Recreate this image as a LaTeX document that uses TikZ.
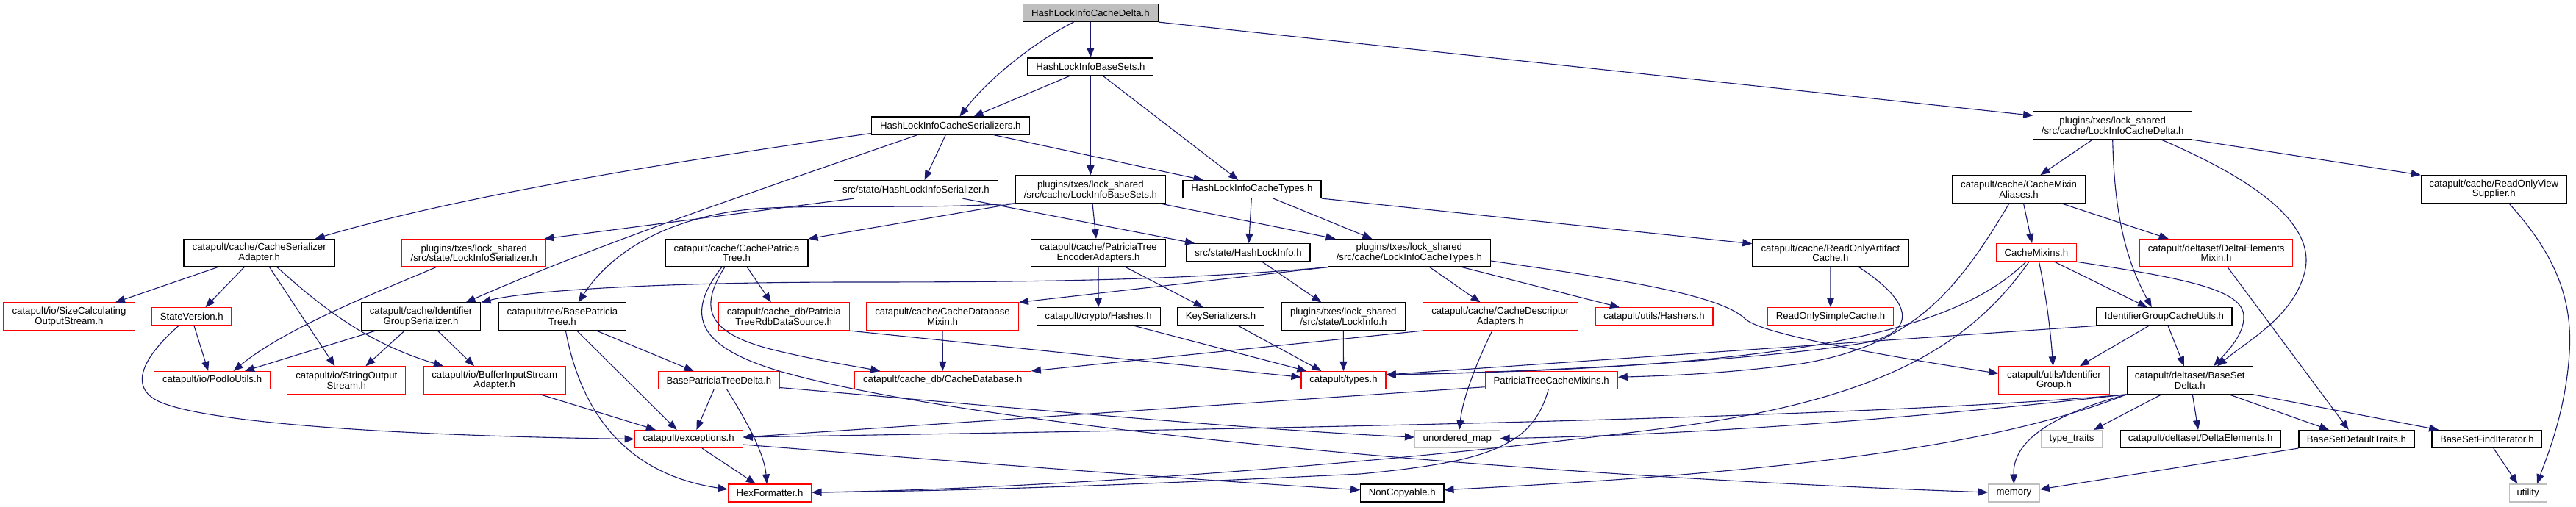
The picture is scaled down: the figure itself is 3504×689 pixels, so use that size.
\documentclass[tikz,border=0pt]{standalone}
\usepackage{fontspec}
\usetikzlibrary{arrows.meta}
\newfontfamily\lsans{Liberation Sans}
\newcommand\gfont{\lsans\fontsize{13.2pt}{13.7pt}\selectfont}
\definecolor{edgecol}{RGB}{25,25,112}
\definecolor{nred}{RGB}{255,0,0}
\definecolor{ngray}{RGB}{191,191,191}
\tikzset{
  base/.style={draw, line width=1.15pt, inner sep=0pt, align=center, font=\gfont, minimum height=24pt, fill=white},
  blk/.style={base, draw=black},
  redb/.style={base, draw=nred},
  grayb/.style={base, draw=ngray},
  two/.style={minimum height=37.5pt},
  dep/.style={draw=edgecol, line width=1.1pt, -{Triangle[length=13pt,width=10pt]}}
}
\begin{document}
\begin{tikzpicture}[x=1pt,y=-1pt]
\path[use as bounding box] (0,0) rectangle (3504,689);
% row 0-1
\node[blk, fill=ngray, minimum width=184pt] (top) at (1483.4,17.5) {HashLockInfoCacheDelta.h};
\node[blk, minimum width=171pt] (bs) at (1483.4,91) {HashLockInfoBaseSets.h};
\node[blk, minimum width=215pt] (ser) at (1292.8,171) {HashLockInfoCacheSerializers.h};
\node[blk, two, minimum width=216pt] (delta) at (2873.7,170.8) {plugins/txes/lock\_shared\\/src/cache/LockInfoCacheDelta.h};
% row 2
\node[blk, minimum width=223pt] (hser) at (1246,257.5) {src/state/HashLockInfoSerializer.h};
\node[blk, two, minimum width=204pt] (libs) at (1483.4,257.5) {plugins/txes/lock\_shared\\/src/cache/LockInfoBaseSets.h};
\node[blk, minimum width=188pt] (types1) at (1703,257.5) {HashLockInfoCacheTypes.h};
\node[blk, two, minimum width=181pt] (alias) at (2746,257.5) {catapult/cache/CacheMixin\\Aliases.h};
\node[blk, two, minimum width=198pt] (rovs) at (3392.3,257.5) {catapult/cache/ReadOnlyView\\Supplier.h};
% row 3
\node[blk, two, minimum width=205.5pt] (csa) at (352.7,344.3) {catapult/cache/CacheSerializer\\Adapter.h};
\node[redb, two, minimum width=196pt] (lis) at (644.8,344.3) {plugins/txes/lock\_shared\\/src/state/LockInfoSerializer.h};
\node[blk, two, minimum width=194pt] (cpt) at (1002,344.3) {catapult/cache/CachePatricia\\Tree.h};
\node[blk, two, minimum width=183pt] (pte) at (1494,344.3) {catapult/cache/PatriciaTree\\EncoderAdapters.h};
\node[blk, minimum width=168pt] (hli) at (1698,343.7) {src/state/HashLockInfo.h};
\node[blk, two, minimum width=221pt] (lict) at (1916.8,344.3) {plugins/txes/lock\_shared\\/src/cache/LockInfoCacheTypes.h};
\node[blk, two, minimum width=212pt] (roac) at (2489.9,344.3) {catapult/cache/ReadOnlyArtifact\\Cache.h};
\node[redb, minimum width=109pt] (mixins) at (2769.9,343.7) {CacheMixins.h};
\node[redb, two, minimum width=208pt] (dem) at (3014.6,344.3) {catapult/deltaset/DeltaElements\\Mixin.h};
% row 4
\node[redb, two, minimum width=179pt] (scos) at (94,430.8) {catapult/io/SizeCalculating\\OutputStream.h};
\node[redb, minimum width=108pt] (sv) at (260.8,430.8) {StateVersion.h};
\node[blk, two, minimum width=162.5pt] (igs) at (572.6,430.8) {catapult/cache/Identifier\\GroupSerializer.h};
\node[blk, two, minimum width=173pt] (bpt) at (764.9,430.8) {catapult/tree/BasePatricia\\Tree.h};
\node[redb, two, minimum width=178pt] (rdb) at (1066.2,430.8) {catapult/cache\_db/Patricia\\TreeRdbDataSource.h};
\node[redb, two, minimum width=206.6pt] (cdm) at (1282.1,430.8) {catapult/cache/CacheDatabase\\Mixin.h};
\node[blk, minimum width=168pt] (hashes) at (1494.1,430.8) {catapult/crypto/Hashes.h};
\node[blk, minimum width=118pt] (keys) at (1660.5,430.8) {KeySerializers.h};
\node[blk, two, minimum width=167.7pt] (li) at (1827.3,430.8) {plugins/txes/lock\_shared\\/src/state/LockInfo.h};
\node[redb, two, minimum width=210.5pt] (cda) at (2040.8,430.8) {catapult/cache/CacheDescriptor\\Adapters.h};
\node[redb, minimum width=160pt] (hashers) at (2250,430.8) {catapult/utils/Hashers.h};
\node[redb, minimum width=171pt] (ross) at (2490,430.8) {ReadOnlySimpleCache.h};
\node[blk, minimum width=184pt] (igcu) at (2944,430.8) {IdentifierGroupCacheUtils.h};
% row 5
\node[redb, minimum width=158.5pt] (pod) at (288.6,517.5) {catapult/io/PodIoUtils.h};
\node[redb, two, minimum width=161pt] (sos) at (471.3,517.5) {catapult/io/StringOutput\\Stream.h};
\node[redb, two, minimum width=193.4pt] (bisa) at (672.7,517.5) {catapult/io/BufferInputStream\\Adapter.h};
\node[redb, minimum width=165pt] (bptd) at (978,517.5) {BasePatriciaTreeDelta.h};
\node[redb, minimum width=240pt] (cdb) at (1282.3,517.5) {catapult/cache\_db/CacheDatabase.h};
\node[redb, minimum width=115pt] (types) at (1827.5,517.5) {catapult/types.h};
\node[redb, minimum width=180pt] (ptcm) at (2110.2,517.5) {PatriciaTreeCacheMixins.h};
\node[redb, two, minimum width=150.4pt] (ig) at (2794,517.5) {catapult/utils/Identifier\\Group.h};
\node[blk, two, minimum width=171pt] (bsd) at (2978.7,517.5) {catapult/deltaset/BaseSet\\Delta.h};
% row 6
\node[redb, minimum width=147pt] (exc) at (936.7,597.5) {catapult/exceptions.h};
\node[grayb, minimum width=115.6pt] (umap) at (1982.3,597.5) {unordered\_map};
\node[grayb, minimum width=83pt] (tt) at (2818,597.5) {type\_traits};
\node[blk, minimum width=218pt] (de) at (2993.2,597.5) {catapult/deltaset/DeltaElements.h};
\node[blk, minimum width=157pt] (bsdt) at (3205.4,597.5) {BaseSetDefaultTraits.h};
\node[blk, minimum width=149.6pt] (bsfi) at (3382.8,597.5) {BaseSetFindIterator.h};
% row 7
\node[redb, minimum width=113.7pt] (hex) at (1047,671) {HexFormatter.h};
\node[blk, minimum width=113.3pt] (nc) at (1907.3,671) {NonCopyable.h};
\node[grayb, minimum width=69.7pt] (mem) at (2739.4,671) {memory};
\node[grayb, minimum width=51pt] (util) at (3438.6,671) {utility};

% edges
\draw[dep] (top) -- (bs);
\draw[dep] ([xshift=-23pt]top.south) .. controls (1420,50) and (1350,100) .. ([xshift=12.6pt]ser.north);
\draw[dep] (top.south east) -- ([yshift=13.5pt]delta.west);
\draw[dep] ([xshift=-28.7pt]bs.south) -- ([xshift=31.8pt]ser.north);
\draw[dep] (bs) -- (libs);
\draw[dep] ([xshift=17.2pt]bs.south) -- ([xshift=-18.7pt]types1.north);
\draw[dep] ([yshift=-10.5pt]ser.west) .. controls (900,222) and (620,268) .. ([xshift=75.9pt]csa.north);
\draw[dep] ([xshift=-44.8pt]ser.south) .. controls (1000,270) and (820,330) .. ([xshift=61pt]igs.north);
\draw[dep] ([xshift=-6.5pt]ser.south) -- ([xshift=11.6pt]hser.north);
\draw[dep] ([xshift=58.6pt]ser.south) -- ([xshift=-66.5pt]types1.north);
\draw[dep] ([xshift=-84.3pt]hser.south) -- ([xshift=-3pt]lis.north east);
\draw[dep] ([xshift=63.3pt]hser.south) -- ([xshift=-73pt]hli.north);
\draw[dep] ([xshift=2.6pt]libs.south) -- ([xshift=-3pt]pte.north);
\draw[dep] ([xshift=93.6pt]libs.south) -- ([xshift=-100.3pt]lict.north);
\draw[dep] (libs.south west) -- (cpt.north east);
\draw[dep] (libs.south west) .. controls (1250,285) and (1120,278) .. (1030,284) .. controls (930,292) and (840,330) .. ([xshift=21.8pt]bpt.north);
\draw[dep] (types1) -- (hli);
\draw[dep] ([xshift=29pt]types1.south) -- ([xshift=-50.5pt]lict.north);
\draw[dep] (types1.south east) -- ([yshift=12.6pt]roac.west);
\draw[dep] ([xshift=18.8pt]hli.south) -- ([xshift=-29.9pt]li.north);
\draw[dep] (lict.south west) .. controls (1600,382) and (1400,384) .. (1160,384) .. controls (900,384) and (720,395) .. (igs.north east);
\draw[dep] ([xshift=27.9pt]lict.south) -- ([xshift=-27.2pt]cda.north);
\draw[dep] ([xshift=72pt]lict.south) -- ([xshift=-47pt]hashers.north);
\draw[dep] (lict.south west) -- (cdm.north east);
\draw[dep] ([yshift=-10.7pt]lict.east) .. controls (2200,380) and (2340,400) .. (2375,435) .. controls (2400,455) and (2550,482) .. ([yshift=9.2pt]ig.west);
\draw[dep] (li) -- (types);
\draw[dep] ([xshift=-11pt]cda.south) .. controls (2010,490) and (1990,540) .. ([xshift=2.7pt]umap.north);
\draw[dep] (cda.south west) -- (cdb.north east);
\draw[dep] ([xshift=-4pt]ptcm.south) .. controls (2085,605) and (2030,628) .. (1850,645) .. controls (1500,662) and (1300,668) .. ([yshift=1pt]hex.east);
\draw[dep] ([yshift=-9.2pt]ptcm.west) -- ([yshift=2.5pt]exc.east);
\draw[dep] ([xshift=24.6pt]mixins.south) -- ([xshift=-23.2pt]igcu.north);
\draw[dep] ([xshift=3.6pt]mixins.south) .. controls (2785,410) and (2790,460) .. ([xshift=-1.4pt]ig.north);
\draw[dep] (mixins.south east) .. controls (2980,380) and (3050,395) .. (3052,430) .. controls (3053,455) and (3030,478) .. ([xshift=32.3pt]bsd.north);
\draw[dep] ([xshift=-14pt]mixins.south) .. controls (2660,450) and (2450,500) .. ([yshift=7.5pt]types.east);
\draw[dep] ([xshift=-10pt]mixins.south) .. controls (2680,470) and (2560,540) .. (2300,578) .. controls (1900,632) and (1400,666) .. ([yshift=1pt]hex.east);
\draw[dep] ([xshift=6.5pt]alias.south) -- ([xshift=-5.9pt]mixins.north);
\draw[dep] ([xshift=58pt]alias.south) -- ([xshift=-64.8pt]dem.north);
\draw[dep] ([xshift=-13pt]alias.south) .. controls (2660,400) and (2600,470) .. (2450,495) .. controls (2350,508) and (2280,511) .. ([yshift=4.2pt]ptcm.east);
\draw[dep] ([xshift=-27.5pt]delta.south) -- ([xshift=29.4pt]alias.north);
\draw[dep] (delta.south) .. controls (2876,300) and (2895,360) .. ([xshift=-17.2pt]igcu.north);
\draw[dep] ([xshift=66.3pt]delta.south) .. controls (3080,250) and (3150,310) .. (3135,370) .. controls (3120,430) and (3060,462) .. ([xshift=37.3pt]bsd.north);
\draw[dep] (delta.south east) -- (rovs.north west);
\draw[dep] ([xshift=20.5pt]rovs.south) .. controls (3470,340) and (3500,400) .. (3495,480) .. controls (3490,560) and (3465,620) .. ([xshift=12.4pt]util.north);
\draw[dep] ([xshift=15.5pt]dem.south) -- ([xshift=-10.7pt]bsdt.north);
\draw[dep] ([xshift=3.6pt]bsd.south) -- ([xshift=-3.2pt]de.north);
\draw[dep] ([xshift=53.3pt]bsd.south) -- ([xshift=-37.5pt]bsdt.north);
\draw[dep] (bsd.south east) -- ([xshift=-65.7pt]bsfi.north);
\draw[dep] ([xshift=-38.5pt]bsd.south) -- ([xshift=30pt]tt.north);
\draw[dep] (bsd.south west) .. controls (2770,570) and (2738,610) .. (mem.north);
\draw[dep] (bsd.south west) .. controls (2600,570) and (2300,592) .. ([yshift=0.8pt]umap.east);
\draw[dep] (bsd.south west) .. controls (2500,572) and (1600,585) .. ([yshift=2.5pt]exc.east);
\draw[dep] (bsd.south west) .. controls (2720,605) and (2450,642) .. ([yshift=4.3pt]nc.east);
\draw[dep] (bsdt.south west) -- ([yshift=5pt]mem.east);
\draw[dep] ([xshift=9pt]bsfi.south) -- ([xshift=-14.3pt]util.north);
\draw[dep] ([xshift=-56.5pt]csa.south) -- ([xshift=62.9pt]scos.north);
\draw[dep] ([xshift=-20.5pt]csa.south) -- ([xshift=18.6pt]sv.north);
\draw[dep] ([xshift=13.9pt]csa.south) -- ([xshift=-15.9pt]sos.north);
\draw[dep] ([xshift=24.3pt]csa.south) .. controls (450,430) and (510,470) .. ([xshift=-69.7pt]bisa.north);
\draw[dep] ([xshift=-51.6pt]lis.south) .. controls (520,395) and (390,445) .. ([xshift=29pt]pod.north);
\draw[dep] ([xshift=3.2pt]sv.south) -- ([xshift=-5.4pt]pod.north);
\draw[dep] ([xshift=-17.8pt]sv.south) .. controls (190,490) and (175,530) .. (220,548) .. controls (300,580) and (600,594) .. (exc.west);
\draw[dep] ([xshift=-61.7pt]igs.south) -- ([xshift=44.4pt]pod.north);
\draw[dep] ([xshift=-22.3pt]igs.south) -- ([xshift=26.2pt]sos.north);
\draw[dep] ([xshift=22.7pt]igs.south) -- ([xshift=-27.7pt]bisa.north);
\draw[dep] ([xshift=4.5pt]bpt.south) .. controls (790,560) and (850,645) .. ([yshift=5pt]hex.west);
\draw[dep] ([xshift=19.8pt]bpt.south) -- ([xshift=-16.1pt]exc.north);
\draw[dep] ([xshift=46.6pt]bpt.south) -- ([xshift=-34.4pt]bptd.north);
\draw[dep] ([xshift=14.3pt]cpt.south) -- ([xshift=-17.4pt]rdb.north);
\draw[dep] ([xshift=-16.3pt]cpt.south) .. controls (950,420) and (960,455) .. (1060,478) .. controls (1110,490) and (1160,498) .. ([xshift=-85pt]cdb.north);
\draw[dep] ([xshift=-20.2pt]cpt.south) .. controls (930,430) and (950,472) .. (1060,505) .. controls (1300,575) and (2000,645) .. ([yshift=1pt]mem.west);
\draw[dep] (rdb.south east) -- ([yshift=4.2pt]types.west);
\draw[dep] ([xshift=62.3pt]bisa.south) -- ([xshift=-44.8pt]exc.north);
\draw[dep] ([xshift=-6.9pt]bptd.south) -- ([xshift=10.7pt]exc.north);
\draw[dep] ([xshift=10.7pt]bptd.south) .. controls (1020,580) and (1040,620) .. ([xshift=-4pt]hex.north);
\draw[dep] ([yshift=-10pt]bptd.east) .. controls (1300,548) and (1700,585) .. ([yshift=2.5pt]umap.west);
\draw[dep] (cdm) -- (cdb);
\draw[dep] (pte) -- (hashes);
\draw[dep] ([xshift=37.2pt]pte.south) -- ([xshift=-24pt]keys.north);
\draw[dep] ([xshift=48.6pt]hashes.south) -- ([xshift=8pt]types.north west);
\draw[dep] ([xshift=23.8pt]keys.south) -- ([xshift=-30.1pt]types.north);
\draw[dep] (igcu.south west) -- ([yshift=7.5pt]types.east);
\draw[dep] ([xshift=-21pt]igcu.south) -- ([xshift=35pt]ig.north);
\draw[dep] ([xshift=5pt]igcu.south) -- ([xshift=-7.9pt]bsd.north);
\draw[dep] (roac) -- (ross);
\draw[dep] ([xshift=38.7pt]roac.south) .. controls (2600,410) and (2610,450) .. (2540,466) .. controls (2400,490) and (2100,506) .. ([yshift=7.5pt]types.east);
\draw[dep] ([xshift=18.3pt]exc.south) -- ([xshift=-19.2pt]hex.north);
\draw[dep] ([yshift=-7.5pt]exc.east) .. controls (1300,628) and (1650,655) .. ([yshift=4.3pt]nc.west);
\end{tikzpicture}
\end{document}
